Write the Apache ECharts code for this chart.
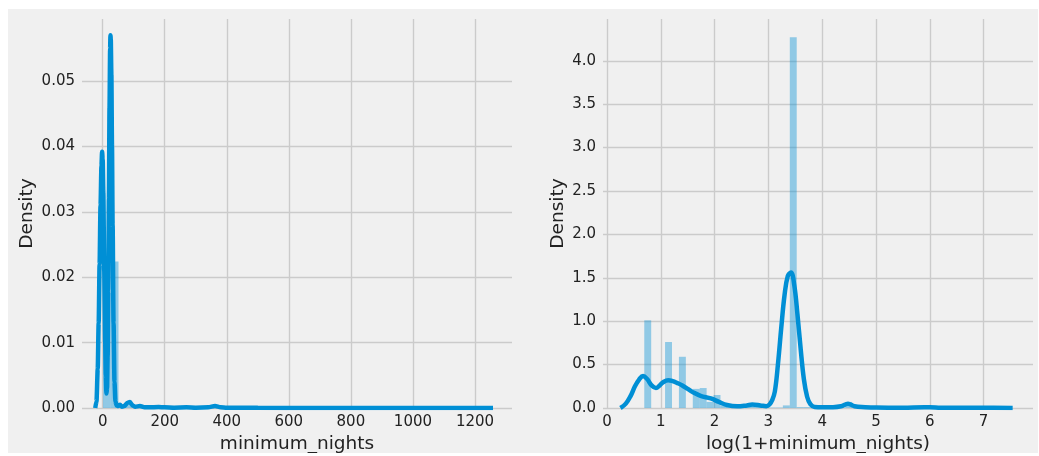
<!DOCTYPE html>
<html>
<head>
<meta charset="utf-8">
<script src="https://cdn.jsdelivr.net/npm/echarts@6/dist/echarts.min.js"></script>
<style>
  html, body { margin: 0; padding: 0; background: #ffffff; }
  #chart { position: absolute; left: 8px; top: 9px; width: 1030px; height: 444px; }
</style>
</head>
<body>
<div id="chart"></div>
<script>
// ---------- data ----------
// Left: distribution of minimum_nights
const leftXTicks = [0, 200, 400, 600, 800, 1000, 1200];
const leftYTicks = [0, 0.01, 0.02, 0.03, 0.04, 0.05];
const leftHistStart = 1;
const leftHistWidth = 24.98;
const leftHistHeights = [0.0176, 0.0224, 0.0003, 0.0007, 0.0002, 0.0003, 0.0001, 0.0002, 0.0001, 0.0001,
  0.00003, 0.00005, 0.00002, 0.0001, 0.0003, 0.00002, 0, 0, 0, 0,
  0.00001, 0, 0, 0, 0.00001, 0, 0, 0, 0, 0,
  0, 0, 0, 0, 0, 0, 0, 0, 0, 0.00001,
  0, 0, 0, 0, 0, 0, 0, 0, 0, 0.00001];
const leftKdeX = [-24, -20, -16, -13, -10, -7, -4, -2, 0, 2, 5, 8, 10, 12, 14, 16, 18, 20, 22, 24, 25, 26, 28, 30, 32, 35, 38, 41, 45,
  50, 56, 62, 70, 80, 88, 96, 105, 120, 135, 150, 180, 200, 230, 270, 300, 340, 362, 380, 400, 500, 700, 900, 1100, 1258];
const leftKdeY = [0, 0.001, 0.006, 0.013, 0.022, 0.031, 0.037, 0.0392, 0.038, 0.033, 0.021, 0.010, 0.005, 0.0022, 0.003, 0.008, 0.018, 0.032, 0.046, 0.055, 0.057, 0.0565, 0.051, 0.040, 0.028, 0.013, 0.004, 0.001, 0.0004,
  0.0003, 0.0005, 0.0002, 0.0003, 0.0008, 0.0009, 0.0004, 0.0002, 0.0003, 0.0001, 0.0001, 0.00015, 0.0001, 0.00005, 0.0001, 0.00005, 0.0001, 0.0003, 0.0001, 0.00003, 0.00002, 0.00001, 0.00001, 0.00001, 0];

// Right: distribution of log(1+minimum_nights)
const rightXTicks = [0, 1, 2, 3, 4, 5, 6, 7];
const rightYTicks = [0, 0.5, 1.0, 1.5, 2.0, 2.5, 3.0, 3.5, 4.0];
const rightHistStart = 0.693;
const rightHistWidth = 0.1288;
const rightHistHeights = [1.01, 0, 0, 0.76, 0, 0.59, 0, 0.22, 0.23, 0.07,
  0.15, 0.03, 0.01, 0.03, 0.01, 0.04, 0.02, 0.005, 0.005, 0.005,
  0.03, 4.27, 0.01, 0.01, 0.005, 0.005, 0.003, 0.003, 0.003, 0.07,
  0.003, 0.002, 0.002, 0.002, 0.002, 0.01, 0.002, 0.002, 0.002, 0.002,
  0.015, 0.002, 0, 0, 0, 0, 0, 0, 0, 0.002];
const rightKdeX = [0.25, 0.35, 0.44, 0.52, 0.60, 0.67, 0.75, 0.83, 0.91, 0.98, 1.05, 1.14, 1.22, 1.30, 1.40, 1.50, 1.60, 1.74, 1.93, 2.08, 2.23, 2.42, 2.60, 2.70, 2.85,
  2.96, 3.02, 3.07, 3.12, 3.18, 3.24, 3.30, 3.36, 3.42, 3.48, 3.54, 3.60, 3.66, 3.72, 3.78, 3.86,
  4.00, 4.20, 4.35, 4.48, 4.60, 4.80, 5.00, 5.50, 5.90, 6.00, 6.20, 6.60, 7.00, 7.54];
const rightKdeY = [0, 0.05, 0.14, 0.25, 0.33, 0.37, 0.33, 0.26, 0.23, 0.26, 0.30, 0.32, 0.31, 0.29, 0.26, 0.22, 0.18, 0.14, 0.11, 0.07, 0.035, 0.02, 0.03, 0.04, 0.03,
  0.02, 0.04, 0.09, 0.19, 0.52, 0.93, 1.30, 1.52, 1.56, 1.42, 1.08, 0.68, 0.33, 0.13, 0.045, 0.012,
  0.01, 0.01, 0.02, 0.05, 0.02, 0.01, 0.005, 0.003, 0.01, 0.01, 0.004, 0.002, 0.002, 0];

// ---------- build chart ----------
const BLUE = '#008fd5';
const BAR = 'rgba(0,143,213,0.4)';
const GRID = '#cbcbcb';
const TXT = '#222';
const FONT = 'DejaVu Sans';

function histData(start, width, heights) {
  return heights.map((h, i) => [start + i * width, start + (i + 1) * width, h]);
}
function zip(xs, ys) { return xs.map((x, i) => [x, ys[i]]); }

function renderBar(params, api) {
  const p0 = api.coord([api.value(0), api.value(2)]);
  const p1 = api.coord([api.value(1), 0]);
  return {
    type: 'rect',
    shape: { x: p0[0], y: p0[1], width: p1[0] - p0[0], height: p1[1] - p0[1] },
    style: { fill: BAR }
  };
}

function xAxisDef(idx, min, max, ticks, name) {
  return {
    type: 'value', gridIndex: idx, min: min, max: max,
    name: name, nameLocation: 'middle', nameGap: 21,
    nameTextStyle: { fontFamily: FONT, fontSize: 18.5, color: TXT },
    axisLine: { show: false },
    axisTick: { show: false, customValues: ticks },
    axisLabel: { customValues: ticks, fontFamily: FONT, fontSize: 15, color: TXT, margin: 7,
      formatter: v => String(Math.round(v)) },
    splitLine: { show: true, lineStyle: { color: GRID, width: 1.4 } }
  };
}
function yAxisDef(idx, max, ticks, digits, gap, name) {
  return {
    type: 'value', gridIndex: idx, min: 0, max: max,
    name: name, nameLocation: 'middle', nameGap: gap,
    nameTextStyle: { fontFamily: FONT, fontSize: 18.5, color: TXT },
    axisLine: { show: false },
    axisTick: { show: false, customValues: ticks },
    axisLabel: { customValues: ticks, fontFamily: FONT, fontSize: 15, color: TXT, margin: 7,
      formatter: v => v.toFixed(digits) },
    splitLine: { show: true, lineStyle: { color: GRID, width: 1.4 } }
  };
}

const chart = echarts.init(document.getElementById('chart'), null, { renderer: 'canvas' });
chart.setOption({
  backgroundColor: '#f0f0f0',
  animation: false,
  grid: [
    { left: 74, top: 10, width: 430, height: 389, containLabel: false, outerBoundsMode: 'none' },
    { left: 595, top: 10, width: 430, height: 389, containLabel: false, outerBoundsMode: 'none' }
  ],
  xAxis: [
    xAxisDef(0, -66.7, 1319.3, leftXTicks, 'minimum_nights'),
    xAxisDef(1, -0.074, 7.918, rightXTicks, 'log(1+minimum_nights)')
  ],
  yAxis: [
    yAxisDef(0, 0.0595, leftYTicks, 2, 45, 'Density'),
    yAxisDef(1, 4.481, rightYTicks, 1, 35, 'Density')
  ],
  series: [
    { type: 'custom', xAxisIndex: 0, yAxisIndex: 0, renderItem: renderBar,
      data: histData(leftHistStart, leftHistWidth, leftHistHeights), encode: { x: [0, 1], y: 2 }, z: 1 },
    { type: 'line', xAxisIndex: 0, yAxisIndex: 0, data: zip(leftKdeX, leftKdeY),
      showSymbol: false, smooth: 0.25, smoothMonotone: 'x',
      lineStyle: { color: BLUE, width: 4.5 }, itemStyle: { color: BLUE }, z: 2 },
    { type: 'custom', xAxisIndex: 1, yAxisIndex: 1, renderItem: renderBar,
      data: histData(rightHistStart, rightHistWidth, rightHistHeights), encode: { x: [0, 1], y: 2 }, z: 1 },
    { type: 'line', xAxisIndex: 1, yAxisIndex: 1, data: zip(rightKdeX, rightKdeY),
      showSymbol: false, smooth: 0.4,
      lineStyle: { color: BLUE, width: 4.5 }, itemStyle: { color: BLUE }, z: 2 }
  ]
});
</script>
</body>
</html>
